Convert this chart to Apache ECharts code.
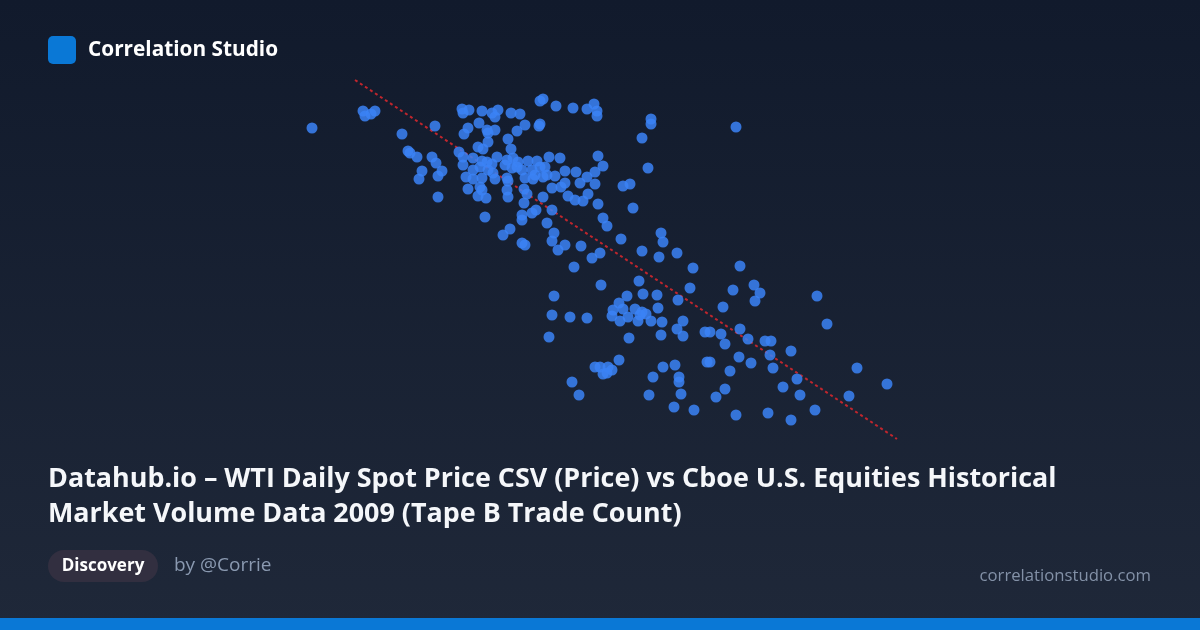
<!DOCTYPE html>
<html>
<head>
<meta charset="utf-8">
<script src="https://cdn.jsdelivr.net/npm/echarts@6/dist/echarts.min.js"></script>
<style>
html,body{margin:0;padding:0;background:#151d30;}
#chart{width:1200px;height:630px;}
</style>
</head>
<body>
<div id="chart"></div>
<script>
// WTI daily spot price (USD/bbl)
const wtiPrice = [
31.2,36.3,36.5,37.1,37.5,43.5,40.2,40.8,41.0,41.7,43.2,43.6,42.2,44.2,41.9,43.8,43.8,48.5,
46.2,46.3,46.9,48.2,49.2,49.5,49.8,47.9,46.4,46.8,48.7,48.8,49.5,48.8,47.8,48.3,45.9,46.3,
47.3,48.2,48.7,49.2,47.3,48.0,46.3,49.7,48.8,49.3,46.6,47.3,48.2,49.5,46.8,48.0,48.2,47.8,48.6,
54.0,54.3,55.6,57.3,58.7,59.4,59.7,59.7,65.1,65.1,64.2,51.1,52.0,52.5,51.7,54.0,53.9,50.8,
51.1,50.7,51.3,51.8,50.5,51.2,51.7,52.8,53.7,54.9,56.0,53.2,54.0,54.5,52.2,52.5,53.3,53.5,
54.7,54.3,55.5,56.5,57.6,50.7,50.8,59.8,60.3,59.5,58.7,58.0,59.5,56.5,56.1,55.2,62.3,63.0,
64.8,50.7,50.8,52.4,52.7,54.3,52.4,56.8,57.5,58.3,58.8,59.8,63.3,52.2,53.2,53.6,55.2,60.3,
73.6,
52.2,51.0,50.3,54.7,55.4,55.2,52.2,52.5,56.5,55.8,58.1,60.0,59.2,57.4,60.7,62.1,66.1,66.3,
64.2,65.9,67.7,69.3,63.9,60.1,55.4,62.7,64.3,65.7,69.0,67.8,61.9,61.3,62.3,63.5,64.2,64.6,
64.0,65.8,55.2,57.0,58.7,61.2,62.0,62.8,63.8,65.1,66.2,68.3,67.7,54.9,62.9,66.1,68.3,
74.0,75.4,76.0,75.5,73.3,72.3,81.7,82.7,70.5,71.0,72.1,74.0,74.8,76.5,77.1,
61.9,59.5,60.0,60.8,61.2,60.3,60.7,66.3,67.5,65.3,67.9,67.9,57.2,57.9,64.9,68.1,67.4,69.4,
72.5,79.1,77.0,73.9,70.7,71.0,75.1,77.3,73.0,85.7,88.7,79.7,78.3,72.5,71.6,80.0,84.9,73.6,
76.8,81.5,79.1
];
// Cboe Tape B trade count (thousands)
const tapeBTrades = [
322,339,334,336,339,324,316,299,297,293,293,287,279,279,271,274,253,233,
341,337,340,339,337,333,340,327,316,322,320,317,320,308,303,301,298,293,
292,289,288,286,280,283,285,293,280,277,273,271,272,271,261,263,260,254,252,
349,351,344,342,341,346,339,334,331,326,312,337,336,325,319,326,324,311,
301,290,292,288,285,282,283,289,289,293,292,280,283,283,280,272,271,275,
275,273,274,279,278,272,269,294,284,278,273,267,266,267,263,262,264,266,
282,260,253,261,256,253,247,254,250,249,256,246,242,235,237,240,240,232,
323,
230,221,215,227,217,209,207,205,205,200,204,197,192,183,224,211,217,208,
199,193,197,182,169,165,154,154,156,155,162,150,147,140,141,141,138,136,
135,142,135,133,132,134,129,133,129,129,128,129,121,113,112,115,114,
184,165,157,149,160,143,154,126,118,118,116,121,111,109,109,
90,83,83,83,80,76,77,83,85,73,73,68,68,55,55,56,43,40,
106,99,95,93,88,88,87,82,79,82,66,71,63,61,53,55,54,35,
37,40,30
];
// trend line endpoints
const trendPrice = [35.5, 89.7];
const trendTrades = [370, 11];

const points = wtiPrice.map((p, i) => [p, tapeBTrades[i]]);
const trend = trendPrice.map((p, i) => [p, trendTrades[i]]);

const chart = echarts.init(document.getElementById('chart'), null, {renderer: 'canvas'});
const FONT = '"Open Sans", "Noto Sans", sans-serif';
chart.setOption({
  animation: false,
  backgroundColor: new echarts.graphic.LinearGradient(0, 0, 0, 1, [
    {offset: 0, color: '#111a2c'},
    {offset: 1, color: '#1f2839'}
  ]),
  grid: {left: 300, right: 300, top: 70, bottom: 180},
  xAxis: {type: 'value', min: 30, max: 90, show: false},
  yAxis: {type: 'value', min: 0, max: 380, show: false},
  series: [
    {
      type: 'line', data: trend, symbol: 'none', z: 1,
      lineStyle: {color: '#c0262d', width: 2, type: [3, 3]}
    },
    {
      type: 'scatter', data: points, symbolSize: 11, z: 2,
      itemStyle: {color: '#3b82f6', opacity: 0.85}
    }
  ],
  graphic: [
    {type: 'rect', shape: {x: 48, y: 36, width: 28, height: 28, r: 5}, style: {fill: '#0a78d6'}},
    {type: 'text', x: 88, y: 50, style: {text: 'Correlation Studio', font: 'bold 20.8px ' + FONT, fill: '#ffffff', textVerticalAlign: 'middle', verticalAlign: 'middle'}},
    {type: 'text', x: 48, y: 479, style: {text: 'Datahub.io – WTI Daily Spot Price CSV (Price) vs Cboe U.S. Equities Historical', font: 'bold 26.9px ' + FONT, fill: '#f5f7fa', textVerticalAlign: 'middle', verticalAlign: 'middle'}},
    {type: 'text', x: 48, y: 514, style: {text: 'Market Volume Data 2009 (Tape B Trade Count)', font: 'bold 26.9px ' + FONT, fill: '#f5f7fa', textVerticalAlign: 'middle', verticalAlign: 'middle'}},
    {type: 'rect', shape: {x: 48, y: 550, width: 110, height: 32, r: 16}, style: {fill: '#322f40'}},
    {type: 'text', x: 103, y: 566, style: {text: 'Discovery', font: 'bold 17px ' + FONT, fill: '#ffffff', textAlign: 'center', align: 'center', textVerticalAlign: 'middle', verticalAlign: 'middle'}},
    {type: 'text', x: 174, y: 566, style: {text: 'by @Corrie', font: '19px ' + FONT, fill: '#8a99b0', textVerticalAlign: 'middle', verticalAlign: 'middle'}},
    {type: 'text', x: 1151, y: 576, style: {text: 'correlationstudio.com', font: '16.7px ' + FONT, fill: '#8391a7', textAlign: 'right', align: 'right', textVerticalAlign: 'middle', verticalAlign: 'middle'}},
    {type: 'rect', shape: {x: 0, y: 618, width: 1200, height: 12}, style: {fill: '#0a78d6'}}
  ]
});
</script>
</body>
</html>
